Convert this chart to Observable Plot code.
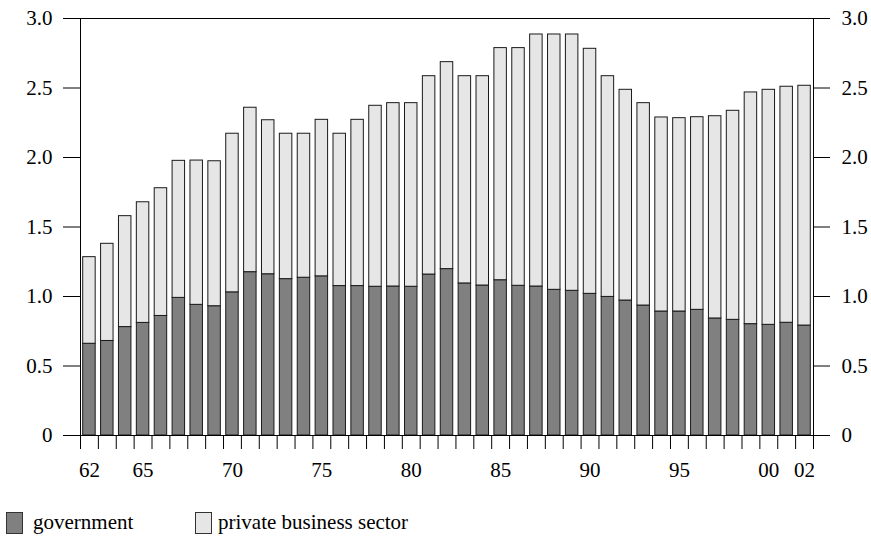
<!DOCTYPE html>
<html>
<head>
<meta charset="utf-8">
<script src="https://cdn.jsdelivr.net/npm/d3@7"></script>
<script src="https://cdn.jsdelivr.net/npm/@observablehq/plot@0.6"></script>
<style>
  html, body { margin: 0; padding: 0; background: #fff; }
  #wrap { position: relative; width: 871px; height: 536px; font-family: 'Liberation Serif', 'DejaVu Serif', serif; color: #000; }
  #wrap svg, #wrap svg text { font-family: 'Liberation Serif', 'DejaVu Serif', serif !important; }
  .sw { position: absolute; box-sizing: border-box; border: 1px solid #333; }
  .lt { position: absolute; font-size: 21px; line-height: 1; white-space: nowrap; font-family: 'Liberation Serif', 'DejaVu Serif', serif; }
</style>
</head>
<body>
<div id="wrap"></div>
<script>
const years = [1962,1963,1964,1965,1966,1967,1968,1969,1970,1971,1972,1973,1974,1975,1976,1977,1978,1979,1980,1981,1982,1983,1984,1985,1986,1987,1988,1989,1990,1991,1992,1993,1994,1995,1996,1997,1998,1999,2000,2001,2002];
const government = [0.66,0.68,0.78,0.81,0.86,0.99,0.94,0.93,1.03,1.175,1.16,1.125,1.135,1.145,1.075,1.075,1.07,1.072,1.07,1.158,1.197,1.094,1.079,1.117,1.077,1.072,1.048,1.041,1.019,0.997,0.971,0.935,0.892,0.892,0.904,0.842,0.832,0.801,0.796,0.811,0.791];
const total = [1.283,1.379,1.578,1.678,1.779,1.976,1.978,1.973,2.171,2.358,2.268,2.171,2.171,2.271,2.171,2.271,2.372,2.391,2.391,2.585,2.686,2.585,2.585,2.787,2.787,2.885,2.885,2.885,2.782,2.585,2.487,2.391,2.288,2.283,2.29,2.297,2.336,2.468,2.487,2.509,2.516];
const yTicks = [0,0.5,1.0,1.5,2.0,2.5,3.0];
const xLabelYears = [1962,1965,1970,1975,1980,1985,1990,1995,2000,2002];
const seriesNames = ["government","private business sector"];
const seriesColors = ["#808080","#e6e6e6"];

const data = years.map((year, i) => ({year, gov: government[i], total: total[i]}));
const boundaries = years.map(y => y - 0.5).concat([years[years.length - 1] + 0.5]);
const yFmt = d => d === 0 ? "0" : d.toFixed(1);
const xFmt = d => String(d % 100).padStart(2, "0");

const chart = Plot.plot({
  width: 871,
  height: 500,
  marginLeft: 80,
  marginRight: 58,
  marginTop: 18,
  marginBottom: 65,
  style: {fontFamily: "'Liberation Serif', 'DejaVu Serif', serif", fontSize: "21px", color: "#000", background: "#fff"},
  x: {type: "linear", domain: [boundaries[0], boundaries[boundaries.length - 1]]},
  y: {domain: [0, 3]},
  marks: [
    Plot.rectY(data, {x1: d => d.year - 0.5, x2: d => d.year + 0.5, y1: 0, y2: "gov", fill: seriesColors[0], stroke: "#1a1a1a", strokeWidth: 1, insetLeft: 2.7, insetRight: 2.7}),
    Plot.rectY(data, {x1: d => d.year - 0.5, x2: d => d.year + 0.5, y1: "gov", y2: "total", fill: seriesColors[1], stroke: "#1a1a1a", strokeWidth: 1, insetLeft: 2.7, insetRight: 2.7}),
    Plot.frame({stroke: "#000"}),
    Plot.axisY({anchor: "left", ticks: yTicks, tickSize: 17, tickPadding: 11, tickFormat: yFmt, label: null}),
    Plot.axisY({anchor: "right", ticks: yTicks, tickSize: 16, tickPadding: 12, tickFormat: yFmt, label: null}),
    Plot.axisX({ticks: boundaries, tickSize: 14, tickFormat: () => "", label: null}),
    Plot.axisX({ticks: xLabelYears, tickSize: 0, tickPadding: 27, tickFormat: xFmt, label: null})
  ]
});

const wrap = document.getElementById("wrap");
wrap.appendChild(chart);

const legendItems = [
  {name: seriesNames[0], color: seriesColors[0], sx: 6, tx: 33},
  {name: seriesNames[1], color: seriesColors[1], sx: 195, tx: 218}
];
for (const it of legendItems) {
  const sw = document.createElement("div");
  sw.className = "sw";
  sw.style.left = it.sx + "px";
  sw.style.top = "512px";
  sw.style.width = "17px";
  sw.style.height = "22px";
  sw.style.background = it.color;
  wrap.appendChild(sw);
  const t = document.createElement("div");
  t.className = "lt";
  t.style.left = it.tx + "px";
  t.style.top = "512px";
  t.textContent = it.name;
  wrap.appendChild(t);
}
</script>
</body>
</html>
